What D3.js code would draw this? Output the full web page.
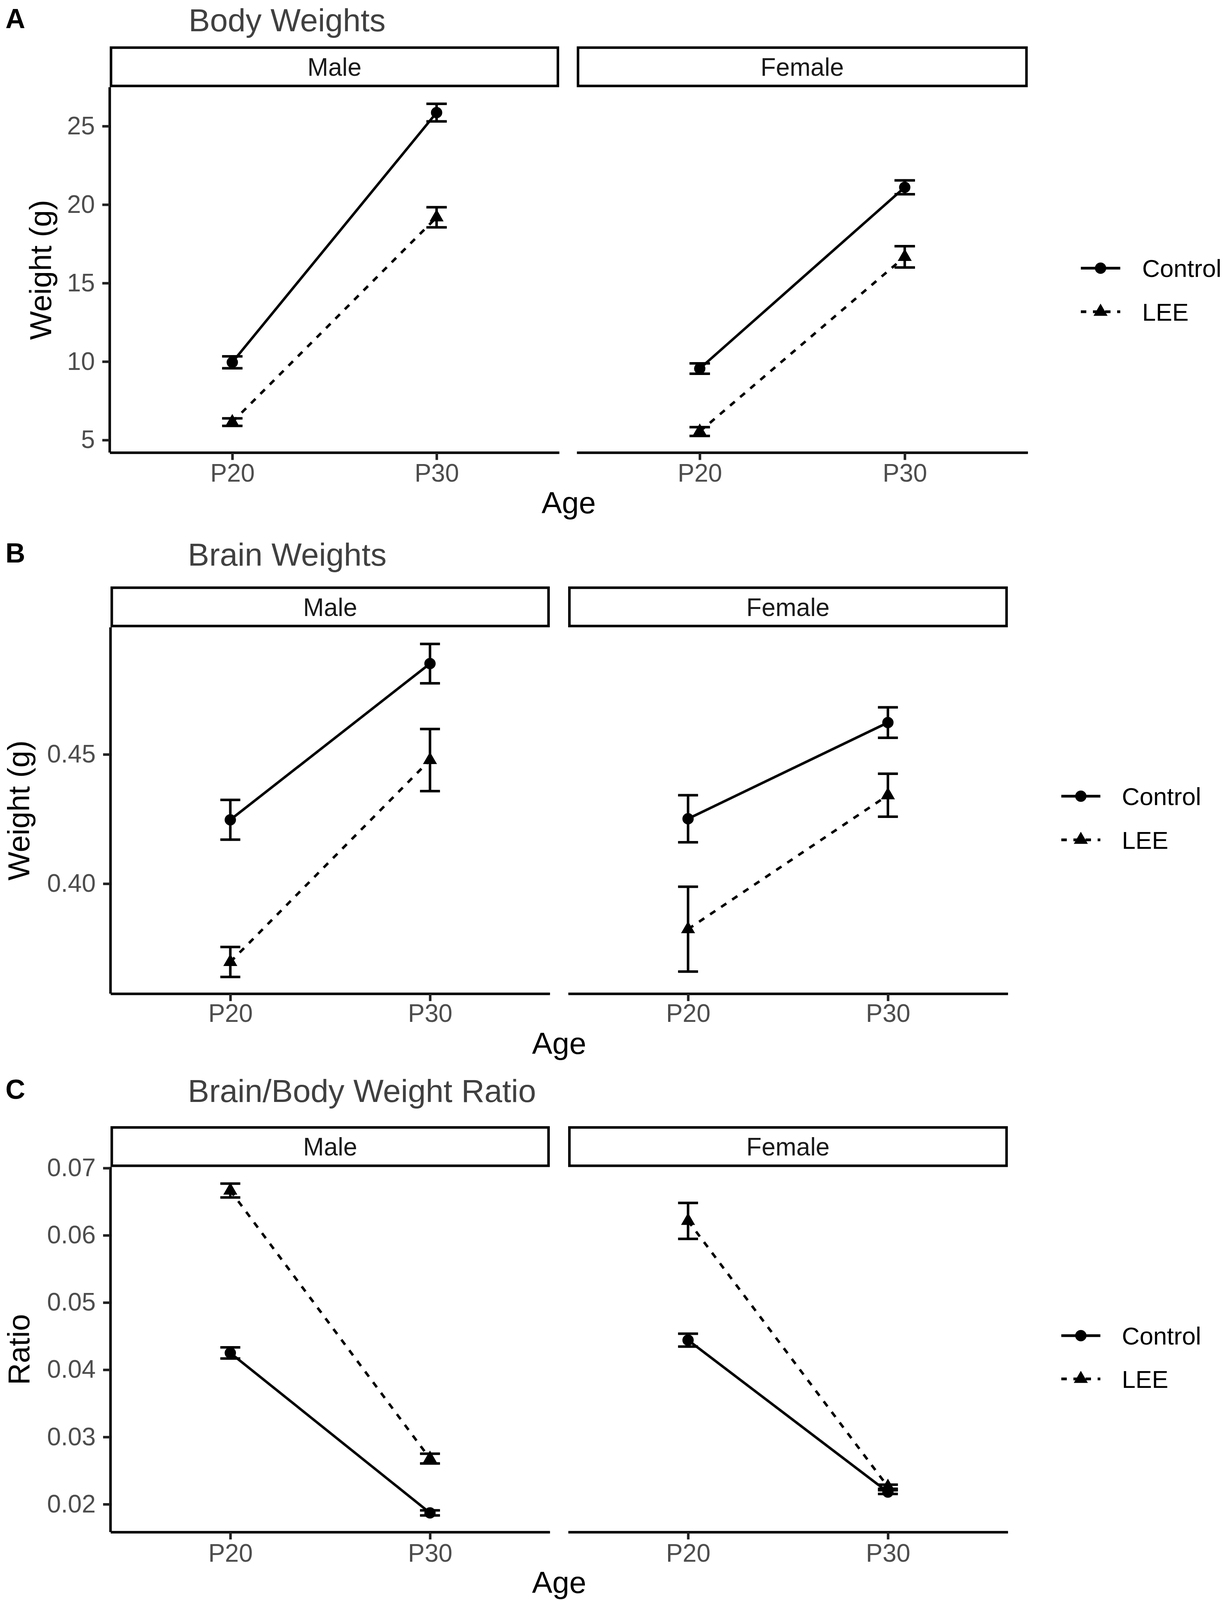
<!DOCTYPE html>
<html>
<head>
<meta charset="utf-8">
<script src="https://cdn.jsdelivr.net/npm/d3@7"></script>
<style>
  html, body { margin: 0; padding: 0; background: #fff; overflow: hidden; }
  svg { display: block; }
  text { font-family: "Liberation Sans", Arial, sans-serif; }
</style>
</head>
<body>
<svg id="chart"></svg>
<script>
// categories
const ages = ["P20", "P30"];
const sexes = ["Male", "Female"];
const groups = ["Control", "LEE"];

// values are ordered [Male P20, Male P30, Female P20, Female P30]
const bodyControlMean = [9.95, 25.86, 9.55, 21.10];
const bodyControlSE   = [0.38, 0.56, 0.33, 0.44];
const bodyLeeMean     = [6.14, 19.19, 5.54, 16.67];
const bodyLeeSE       = [0.24, 0.64, 0.28, 0.68];

const brainControlMean = [0.4247, 0.4851, 0.4251, 0.4623];
const brainControlSE   = [0.0077, 0.0076, 0.0091, 0.0059];
const brainLeeMean     = [0.3697, 0.4478, 0.3824, 0.4342];
const brainLeeSE       = [0.0058, 0.0120, 0.0164, 0.0083];

const ratioControlMean = [0.04250, 0.01871, 0.04440, 0.02180];
const ratioControlSE   = [0.00083, 0.00038, 0.00096, 0.00028];
const ratioLeeMean     = [0.06665, 0.02678, 0.06214, 0.02260];
const ratioLeeSE       = [0.00103, 0.00073, 0.00267, 0.00030];

// tick labels
const bodyTicks = [5, 10, 15, 20, 25];
const brainTicks = [0.40, 0.45];
const ratioTicks = [0.02, 0.03, 0.04, 0.05, 0.06, 0.07];

// the layout is laid out for 3150 x 4660; squeeze it vertically if the window is shorter
const W = 3150, H0 = 4660;
const ky = Math.min(1, (window.innerHeight || H0) / H0);
const Y = v => v * ky;

const svg = d3.select("#chart").attr("width", W).attr("height", Math.floor(H0 * ky));
const font = "'Liberation Sans', Arial, sans-serif";
const lw = 6.5;

function buildRows(ctlMean, ctlSE, leeMean, leeSE) {
  let rows = [];
  sexes.forEach((sex, si) => {
    ages.forEach((age, ai) => {
      let k = si * 2 + ai;
      rows.push({sex: sex, age: age, group: "Control", mean: ctlMean[k], se: ctlSE[k]});
      rows.push({sex: sex, age: age, group: "LEE", mean: leeMean[k], se: leeSE[k]});
    });
  });
  return rows;
}

const panels = [
  {
    letter: "A", title: "Body Weights", ytitle: "Weight (g)",
    rows: buildRows(bodyControlMean, bodyControlSE, bodyLeeMean, bodyLeeSE),
    ticks: bodyTicks, fmt: d3.format("d"),
    titleY: 79, titleX: 483,
    stripTop: 135, top: 254, bottom: 1318,
    facets: [[281, 1432], [1477, 2632]],
    ytitleX: 131, tickBase: 84, ageY: 1495,
    legX: [2768, 2869, 2925], legY: [781, 908]
  },
  {
    letter: "B", title: "Brain Weights", ytitle: "Weight (g)",
    rows: buildRows(brainControlMean, brainControlSE, brainLeeMean, brainLeeSE),
    ticks: brainTicks, fmt: d3.format(".2f"),
    titleY: 1647, titleX: 481,
    stripTop: 1708, top: 1827, bottom: 2894,
    facets: [[283, 1408], [1455, 2581]],
    ytitleX: 75, tickBase: 82, ageY: 3070,
    legX: [2718, 2818, 2873], legY: [2319, 2446]
  },
  {
    letter: "C", title: "Brain/Body Weight Ratio", ytitle: "Ratio",
    rows: buildRows(ratioControlMean, ratioControlSE, ratioLeeMean, ratioLeeSE),
    ticks: ratioTicks, fmt: d3.format(".2f"),
    titleY: 3209, titleX: 481,
    stripTop: 3280, top: 3399, bottom: 4462,
    facets: [[283, 1408], [1455, 2581]],
    ytitleX: 75, tickBase: 86, ageY: 4640,
    legX: [2718, 2818, 2873], legY: [3890, 4016]
  }
];

const triangle = d3.symbol().type(d3.symbolTriangle).size(560);

function drawMarker(g, group, x, y) {
  if (group === "Control") {
    g.append("circle").attr("cx", x).attr("cy", y).attr("r", 14.5).attr("fill", "#000");
  } else {
    g.append("path").attr("d", triangle()).attr("transform", `translate(${x},${y})`).attr("fill", "#000");
  }
}

function styleAxis(ax, fs) {
  ax.select(".domain").attr("stroke", "#000").attr("stroke-width", lw);
  ax.selectAll(".tick line").attr("stroke", "#222").attr("stroke-width", lw);
  ax.selectAll(".tick text")
    .attr("fill", "#4d4d4d")
    .style("font-family", font)
    .style("font-size", fs + "px");
}

panels.forEach(p => {
  let g = svg.append("g");
  let top = Y(p.top), bottom = Y(p.bottom), stripTop = Y(p.stripTop);

  // panel letter and title (kept clear of the top edge)
  let titleBase = Math.max(Y(p.titleY), 80);
  g.append("text").attr("x", 14).attr("y", titleBase - 8)
    .style("font-size", "70px").style("font-weight", "bold").attr("fill", "#000")
    .text(p.letter);
  g.append("text").attr("x", p.titleX).attr("y", titleBase)
    .style("font-size", "82px").attr("fill", "#404040")
    .text(p.title);

  // y scale with ggplot style 5% expansion
  let lo = d3.min(p.rows, d => d.mean - d.se);
  let hi = d3.max(p.rows, d => d.mean + d.se);
  let pad = (hi - lo) * 0.05;
  let y = d3.scaleLinear().domain([lo - pad, hi + pad]).range([bottom, top]);

  sexes.forEach((sex, si) => {
    let [x0, x1] = p.facets[si];
    let x = d3.scalePoint().domain(ages).range([x0, x1]).padding(0.6);
    let capW = x.step() * 0.1;
    let fg = g.append("g");

    // strip
    fg.append("rect")
      .attr("x", x0 + lw / 2).attr("y", stripTop + lw / 2)
      .attr("width", x1 - x0 - lw).attr("height", top - stripTop - lw)
      .attr("fill", "#fff").attr("stroke", "#000").attr("stroke-width", lw);
    fg.append("text")
      .attr("x", (x0 + x1) / 2).attr("y", (stripTop + top) / 2 + 23)
      .attr("text-anchor", "middle").style("font-size", "64px").attr("fill", "#1a1a1a")
      .text(sex);

    // x axis
    let tickPad = Math.max(4, Y(p.tickBase) - 19 - 45);
    let xa = fg.append("g").attr("transform", `translate(0,${bottom})`)
      .call(d3.axisBottom(x).tickSize(19).tickSizeOuter(0).tickPadding(tickPad));
    styleAxis(xa, 64);

    // y axis only on first facet
    if (si === 0) {
      let ya = fg.append("g").attr("transform", `translate(${x0},0)`)
        .call(d3.axisLeft(y).tickValues(p.ticks).tickFormat(p.fmt)
          .tickSize(19).tickSizeOuter(0).tickPadding(19));
      ya.select(".domain").attr("d", `M0,${bottom}V${top}`);
      styleAxis(ya, 64);
    }

    let rows = p.rows.filter(d => d.sex === sex);

    // error bars
    let eb = fg.append("g").attr("stroke", "#000").attr("stroke-width", lw).attr("fill", "none");
    rows.forEach(d => {
      let cx = x(d.age);
      eb.append("line").attr("x1", cx).attr("x2", cx)
        .attr("y1", y(d.mean - d.se)).attr("y2", y(d.mean + d.se));
      eb.append("line").attr("x1", cx - capW / 2).attr("x2", cx + capW / 2)
        .attr("y1", y(d.mean - d.se)).attr("y2", y(d.mean - d.se));
      eb.append("line").attr("x1", cx - capW / 2).attr("x2", cx + capW / 2)
        .attr("y1", y(d.mean + d.se)).attr("y2", y(d.mean + d.se));
    });

    // lines
    let line = d3.line().x(d => x(d.age)).y(d => y(d.mean));
    groups.forEach(grp => {
      fg.append("path")
        .datum(rows.filter(d => d.group === grp))
        .attr("d", line)
        .attr("fill", "none").attr("stroke", "#000").attr("stroke-width", lw)
        .attr("stroke-dasharray", grp === "LEE" ? "16,18" : null);
    });

    // points
    rows.forEach(d => drawMarker(fg, d.group, x(d.age), y(d.mean)));
  });

  // y axis title
  g.append("text")
    .attr("transform", `translate(${p.ytitleX},${(top + bottom) / 2}) rotate(-90)`)
    .attr("text-anchor", "middle").style("font-size", "78px").attr("fill", "#000")
    .text(p.ytitle);

  // x axis title
  g.append("text")
    .attr("x", (p.facets[0][0] + p.facets[1][1]) / 2).attr("y", Y(p.ageY))
    .attr("text-anchor", "middle").style("font-size", "78px").attr("fill", "#000")
    .text("Age");

  // legend
  groups.forEach((grp, gi) => {
    let ly = Y(p.legY[gi]);
    g.append("line")
      .attr("x1", p.legX[0]).attr("x2", p.legX[1]).attr("y1", ly).attr("y2", ly)
      .attr("stroke", "#000").attr("stroke-width", 7)
      .attr("stroke-dasharray", grp === "LEE" ? "14,17" : null);
    drawMarker(g, grp, (p.legX[0] + p.legX[1]) / 2, ly);
    g.append("text").attr("x", p.legX[2]).attr("y", ly + 23)
      .style("font-size", "63px").attr("fill", "#000")
      .text(grp);
  });
});
</script>
</body>
</html>
